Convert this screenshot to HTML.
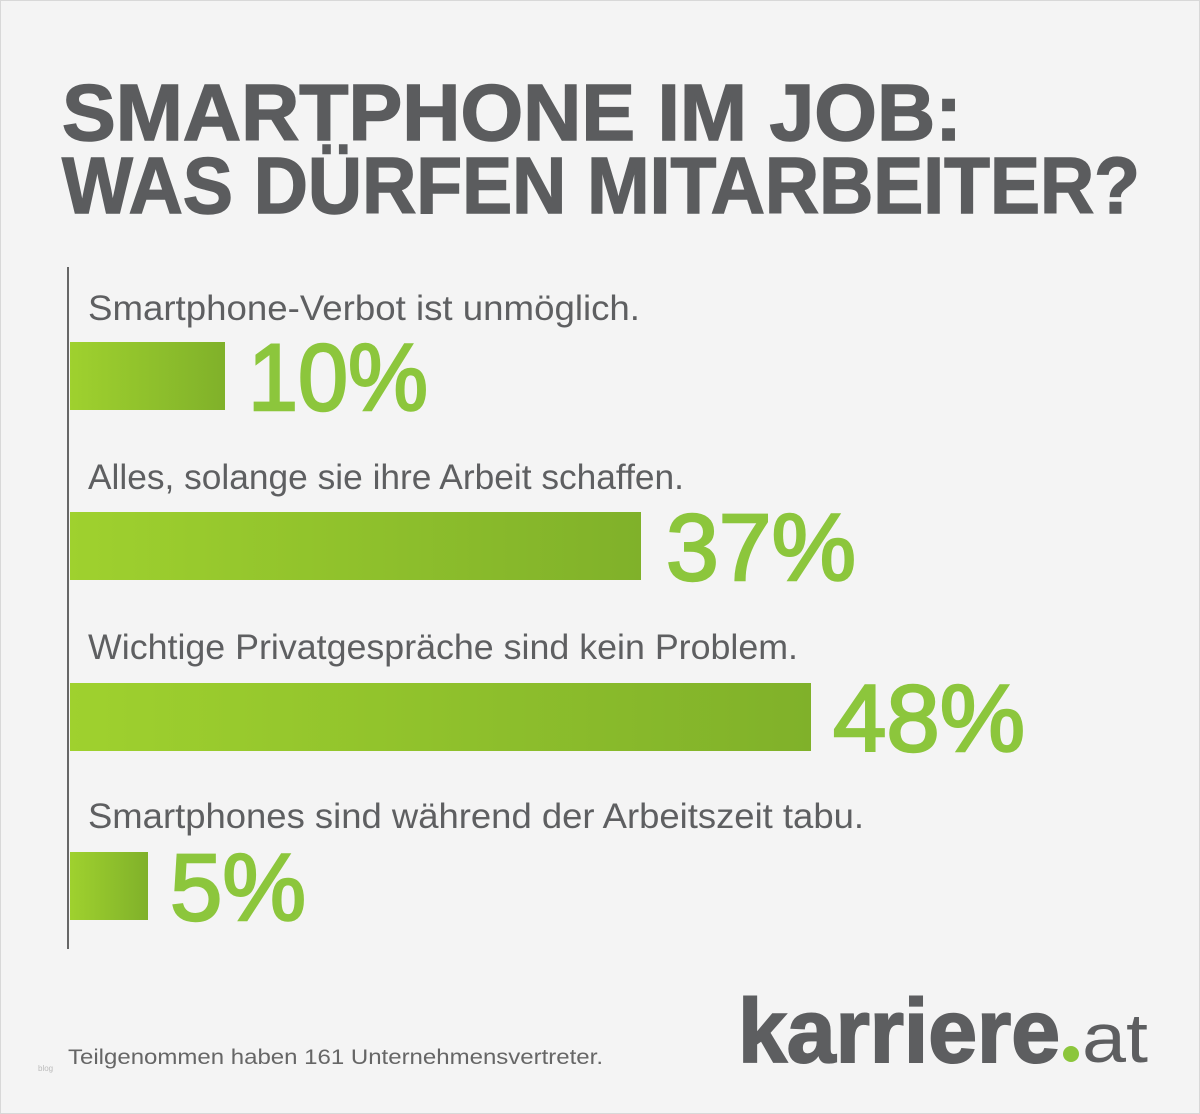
<!DOCTYPE html>
<html><head><meta charset="utf-8"><style>
html,body{margin:0;padding:0;background:#f4f4f4}
svg{display:block}
</style></head><body>
<svg width="1200" height="1114" viewBox="0 0 1200 1114" xmlns="http://www.w3.org/2000/svg">
<defs>
<linearGradient id="g" x1="0" x2="1" y1="0" y2="0">
<stop offset="0" stop-color="#9fd12e"/><stop offset="1" stop-color="#80b12a"/>
</linearGradient>
</defs>
<rect x="0.5" y="0.5" width="1199" height="1113" fill="#f4f4f4" stroke="#d8d8d8"/>
<g font-family="Liberation Sans, sans-serif" font-weight="bold" fill="#5b5c5e" font-size="80" stroke="#5b5c5e" stroke-width="1.5">
<text x="62" y="140" textLength="900" lengthAdjust="spacingAndGlyphs">SMARTPHONE IM JOB:</text>
<text x="62" y="213" textLength="1078" lengthAdjust="spacingAndGlyphs">WAS DÜRFEN MITARBEITER?</text>
</g>
<rect x="67" y="267" width="2" height="682" fill="#666"/>
<g font-family="Liberation Sans, sans-serif" fill="#5e5f61" font-size="35">
<text x="88" y="320" textLength="552" lengthAdjust="spacingAndGlyphs">Smartphone-Verbot ist unmöglich.</text>
<text x="88" y="489" textLength="596" lengthAdjust="spacingAndGlyphs">Alles, solange sie ihre Arbeit schaffen.</text>
<text x="88" y="659" textLength="710" lengthAdjust="spacingAndGlyphs">Wichtige Privatgespräche sind kein Problem.</text>
<text x="88" y="828" textLength="776" lengthAdjust="spacingAndGlyphs">Smartphones sind während der Arbeitszeit tabu.</text>
</g>
<rect x="70" y="342" width="155" height="68" fill="url(#g)"/>
<rect x="70" y="512" width="571" height="68" fill="url(#g)"/>
<rect x="70" y="683" width="741" height="68" fill="url(#g)"/>
<rect x="70" y="852" width="78" height="68" fill="url(#g)"/>
<g font-family="Liberation Sans, sans-serif" fill="#8cc63c" stroke="#8cc63c" stroke-width="2.5" font-size="95">
<text x="248" y="410" textLength="180" lengthAdjust="spacingAndGlyphs">10%</text>
<text x="666" y="580" textLength="190" lengthAdjust="spacingAndGlyphs">37%</text>
<text x="833" y="751" textLength="192" lengthAdjust="spacingAndGlyphs">48%</text>
<text x="170" y="920" textLength="136" lengthAdjust="spacingAndGlyphs">5%</text>
</g>
<text x="38" y="1071" font-family="Liberation Sans, sans-serif" font-size="8" fill="#bbb">blog</text>
<text x="68" y="1064" font-family="Liberation Sans, sans-serif" font-size="21" fill="#666" textLength="535" lengthAdjust="spacingAndGlyphs">Teilgenommen haben 161 Unternehmensvertreter.</text>
<text x="738" y="1062" font-family="Liberation Sans, sans-serif" font-weight="bold" font-size="90" fill="#5d5e60" stroke="#5d5e60" stroke-width="2" textLength="322" lengthAdjust="spacingAndGlyphs">karriere</text>
<circle cx="1071" cy="1054" r="8" fill="#8cc63c"/>
<text x="1082" y="1062" font-family="Liberation Sans, sans-serif" font-size="70" fill="#5d5e60" textLength="66" lengthAdjust="spacingAndGlyphs">at</text>
</svg>
</body></html>
